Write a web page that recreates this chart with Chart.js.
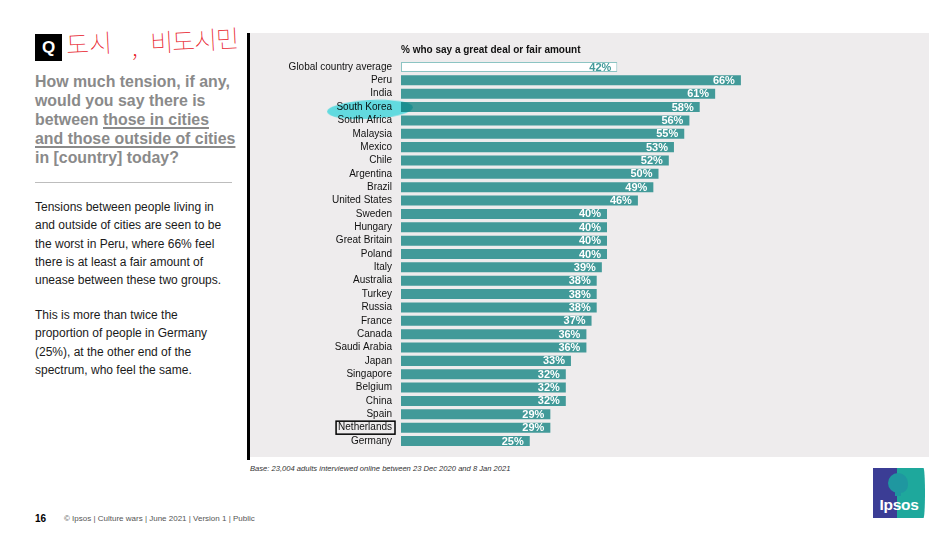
<!DOCTYPE html>
<html>
<head>
<meta charset="utf-8">
<script src="https://cdn.jsdelivr.net/npm/chart.js@4.4.0/dist/chart.umd.min.js"></script>
<style>
  html,body{margin:0;padding:0;background:#fff;}
  body{width:950px;height:540px;position:relative;overflow:hidden;font-family:"Liberation Sans",Arial,sans-serif;}
  .abs{position:absolute;}
  #panel{left:250px;top:33px;width:679px;height:424px;background:#eeeced;}
  #vline{left:247px;top:33px;width:3px;height:427px;background:#000;}
  #wrap{left:250px;top:33px;width:679px;height:424px;}
  #qbox{left:35px;top:34px;width:27px;height:27px;background:#000;color:#fff;font-weight:bold;font-size:17px;line-height:27px;text-align:center;}
  .hand{color:#e8202a;font-family:"Noto Sans CJK KR",sans-serif;font-weight:100;font-size:25px;line-height:30px;white-space:nowrap;}
  #question{left:35px;top:72px;width:215px;color:#8a8a8a;font-weight:bold;font-size:15.9px;line-height:19px;white-space:nowrap;}
  #question u{text-decoration-thickness:1.5px;text-underline-offset:2px;}
  #sep{left:35px;top:182px;width:197px;height:1px;background:#bdbdbd;}
  #body{left:35px;top:198px;width:215px;color:#1a1a1a;font-size:12px;line-height:18.3px;white-space:nowrap;}
  #body p{margin:0;}
  #body p+p{margin-top:16.5px;}
  #base{left:250px;top:464px;font-size:7.6px;font-style:italic;color:#333;}
  #pnum{left:35px;top:513px;font-size:10px;font-weight:bold;color:#000;}
  #foot{left:64px;top:514px;font-size:8px;color:#555;}
  #logo{left:873px;top:468px;width:52px;height:50px;background:linear-gradient(to right,#3b3d95 0,#3b3d95 47%,#1ea89c 47%,#1ea89c 100%);border-top-right-radius:3px 50px;border-bottom-right-radius:3px 50px;overflow:hidden;}
  #logo .t{position:absolute;left:0;width:52px;top:28px;text-align:center;color:#fff;font-weight:bold;font-size:15.5px;letter-spacing:-0.3px;}
  #logo .h{position:absolute;left:15px;top:5px;width:20px;height:20px;border-radius:50% 50% 40% 50%;background:#1f97a0;}
  #logo .h2{position:absolute;left:22px;top:20px;width:6px;height:8px;background:#1f97a0;}
  #hl{left:327px;top:100px;width:86px;height:19px;border-radius:50%;background:rgb(105,236,240);mix-blend-mode:multiply;transform:rotate(-3deg);}
</style>
</head>
<body>
<div id="panel" class="abs"></div>
<div id="vline" class="abs"></div>
<div id="wrap" class="abs"><canvas id="c" width="679" height="424"></canvas></div>
<div id="hl" class="abs"></div>

<div id="qbox" class="abs">Q</div>
<div class="abs hand" style="left:66px;top:27px;transform:rotate(-3deg);">도시</div>
<div class="abs hand" style="left:132px;top:30px;">,</div>
<div class="abs hand" style="left:150px;top:24px;transform:rotate(-3deg);letter-spacing:-1px;">비도시민</div>
<div id="question" class="abs">How much tension, if any,<br>would you say there is<br>between <u>those in cities</u><br><u>and those outside of cities</u><br>in [country] today?</div>
<div id="sep" class="abs"></div>
<div id="body" class="abs">
  <p>Tensions between people living in<br>and outside of cities are seen to be<br>the worst in Peru, where 66% feel<br>there is at least a fair amount of<br>unease between these two groups.</p>
  <p>This is more than twice the<br>proportion of people in Germany<br>(25%), at the other end of the<br>spectrum, who feel the same.</p>
</div>
<div id="base" class="abs">Base: 23,004 adults interviewed online between 23 Dec 2020 and 8 Jan 2021</div>
<div id="pnum" class="abs">16</div>
<div id="foot" class="abs">© Ipsos | Culture wars | June 2021 | Version 1 | Public</div>
<div id="logo" class="abs"><div class="h"></div><div class="h2"></div><div class="t">Ipsos</div></div>

<script>
const categories = ["Global country average","Peru","India","South Korea","South Africa","Malaysia","Mexico","Chile","Argentina","Brazil","United States","Sweden","Hungary","Great Britain","Poland","Italy","Australia","Turkey","Russia","France","Canada","Saudi Arabia","Japan","Singapore","Belgium","China","Spain","Netherlands","Germany"];
const values = [42,66,61,58,56,55,53,52,50,49,46,40,40,40,40,39,38,38,38,37,36,36,33,32,32,32,29,29,25];
const chartTitle = "% who say a great deal or fair amount";
const boxedLabel = "Netherlands";

const TEAL = "#429a99";

const valueLabels = {
  id: "valueLabels",
  afterDatasetsDraw(chart) {
    const ctx = chart.ctx;
    const meta = chart.getDatasetMeta(0);
    ctx.save();
    ctx.font = "bold 11px 'Liberation Sans', Arial, sans-serif";
    ctx.textAlign = "right";
    ctx.textBaseline = "middle";
    meta.data.forEach((bar, i) => {
      ctx.fillStyle = i === 0 ? TEAL : "#ffffff";
      ctx.fillText(values[i] + "%", bar.x - 6, bar.y + 0.5);
    });
    const ys = chart.scales.y;
    const idx = categories.indexOf(boxedLabel);
    if (idx >= 0) {
      const y = ys.getPixelForValue(idx);
      ctx.font = "10px 'Liberation Sans', Arial, sans-serif";
      const w = ctx.measureText(boxedLabel).width;
      const right = ys.right - 8;
      ctx.strokeStyle = "#000";
      ctx.lineWidth = 1.5;
      ctx.strokeRect(right - w - 3, y - 6.5, w + 5, 13);
    }
    ctx.restore();
  }
};

new Chart(document.getElementById("c"), {
  type: "bar",
  data: {
    labels: categories,
    datasets: [{
      data: values,
      backgroundColor: values.map((v, i) => i === 0 ? "#ffffff" : TEAL),
      borderColor: values.map((v, i) => i === 0 ? "#8cc4c3" : TEAL),
      borderWidth: values.map((v, i) => i === 0 ? 1 : 0),
      borderSkipped: false,
      barPercentage: 0.75,
      categoryPercentage: 1
    }]
  },
  options: {
    indexAxis: "y",
    responsive: false,
    animation: false,
    layout: { autoPadding: false, padding: { top: 8, right: 13, bottom: 9.3, left: 0 } },
    plugins: {
      legend: { display: false },
      tooltip: { enabled: false },
      title: {
        display: true,
        text: chartTitle,
        align: "start",
        fullSize: false,
        color: "#111",
        font: { family: "'Liberation Sans', Arial, sans-serif", size: 10, weight: "bold", lineHeight: 1.2 },
        padding: { top: 3, bottom: 4.3 }
      }
    },
    scales: {
      x: { display: false, min: 0, max: 100 },
      y: {
        grid: { display: false, drawTicks: false },
        border: { display: false },
        ticks: {
          color: "#111",
          padding: 9,
          autoSkip: false,
          font: { family: "'Liberation Sans', Arial, sans-serif", size: 10 }
        },
        afterFit(scale) { scale.width = 151; scale.paddingTop = 0; scale.paddingBottom = 0; }
      }
    }
  },
  plugins: [valueLabels]
});
</script>
</body>
</html>
